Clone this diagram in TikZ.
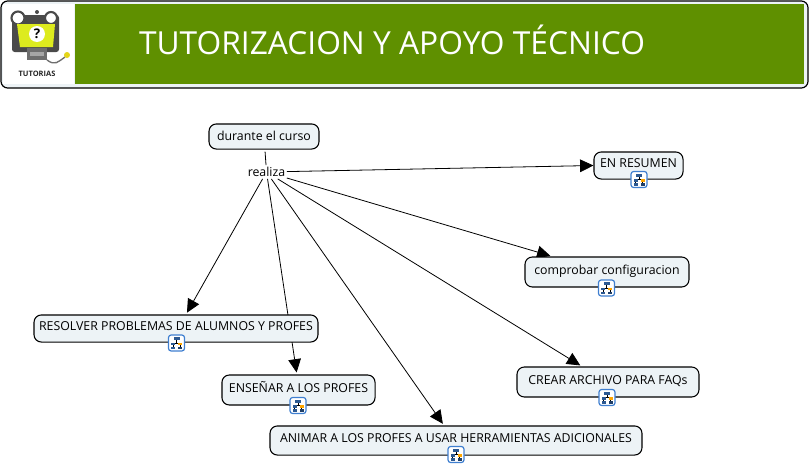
\documentclass[tikz,border=0pt]{standalone}
\usepackage{fontspec}
\setmainfont{Open Sans}
\usetikzlibrary{arrows.meta,positioning}
\pgfdeclarelayer{bg}
\pgfsetlayers{bg,main}
\definecolor{boxfill}{HTML}{EDF3F6}
\definecolor{banner}{HTML}{5F9000}
\definecolor{iconblue}{HTML}{3F7FD0}
\definecolor{scr}{HTML}{DDEB1E}
\definecolor{frm}{HTML}{4A4A4A}
\tikzset{
  cbox/.style={draw=black,fill=boxfill,rounded corners=5.5pt,line width=.8pt,inner sep=0pt,font=\fontsize{9.25}{11}\selectfont,text height=7pt,text depth=1pt,align=center},
  iconbox/.style={cbox,text height=7pt,text depth=4pt},
  linking/.style={inner sep=1pt,font=\fontsize{9.25}{11}\selectfont,text height=7pt,text depth=1pt},
  conn/.style={line width=.6pt,draw=black},
  arr/.style={conn,shorten >=1.5pt,-{Triangle[length=10pt,width=9.5pt]}},
  pics/treeicon/.style={code={
    \draw[draw=iconblue,fill=white,rounded corners=2pt,line width=.9pt] (-8,-8) rectangle (8,8);
    \draw[line width=.4pt,black] (0,-4) -- (0,0) (-3.5,0) -- (3.5,0) (-3.5,0) -- (-3.5,4) (3.5,0) -- (3.5,4);
    \fill[iconblue!70!black] (-3,-6) rectangle (3,-3);
    \fill[iconblue!70!black] (-5.5,-0.5) rectangle (-1.5,2);
    \fill[orange!70!yellow] (1.5,-0.5) rectangle (5.5,2);
    \fill[iconblue!70!black] (-5.5,3.5) rectangle (-1.5,6);
    \fill[iconblue!50!black] (1.5,3.5) rectangle (5.5,6);
  }}
}
\begin{document}
\begin{tikzpicture}[x=.75pt,y=-.75pt]
\useasboundingbox (0,0) rectangle (811,468);
% banner
\draw[black,fill=boxfill,rounded corners=5pt,line width=.9pt] (1,1) rectangle (808,88);
\fill[white] (3,4) rectangle (74,84);
\fill[banner] (75,4) rectangle (804,84);
\node[text=white,anchor=center,font=\fontsize{23.8}{26}\selectfont,inner sep=0pt] (title) at (392,39.5) {TUTORIZACION Y APOYO TÉCNICO};
% logo
\fill[frm,rounded corners=2pt] (12,15) rectangle (59,52);
\fill[frm!80] (27,48) rectangle (47,60);
\fill[black!35] (30,52) rectangle (44,56);
\draw[frm,line width=1.6pt,fill=white] (18,18) circle (6.5);
\draw[frm,line width=1.6pt,fill=white] (51,18) circle (6);
\fill[frm] (37,12) circle (2);
\fill[scr] (17,24) -- (55,24) -- (53,47) -- (20,47) -- cycle;
\fill[white] (37,34) circle (8);
\node[font=\bfseries\fontsize{10}{11}\selectfont,inner sep=0pt,text=black] (qmark) at (37,34) {?};
\draw[frm!80,line width=1pt] (47,60) .. controls (55,66) and (58,62) .. (65,57);
\fill[scr!80!orange] (67,55) circle (3);
\node[font=\bfseries\fontsize{5.6}{6}\selectfont,inner sep=0pt,text=black!85] (logotext) at (37,73.5) {TUTORIAS};
% nodes
\node[cbox,minimum width=82.5pt,minimum height=18.8pt] (dur) at (264,136.5) {durante el curso};
\node[linking] (rea) at (266.5,172) {realiza};
\node[iconbox,minimum width=66.8pt,minimum height=20.3pt] (res) at (638.5,165.5) {EN RESUMEN};
\node[iconbox,minimum width=123pt,minimum height=22.5pt] (com) at (607,272) {comprobar configuracion};
\node[iconbox,minimum width=213pt,minimum height=20.3pt] (pro) at (176,328.5) {RESOLVER PROBLEMAS DE ALUMNOS Y PROFES};
\node[iconbox,minimum width=114.8pt,minimum height=22.5pt] (ens) at (298.5,390) {ENSEÑAR A LOS PROFES};
\node[iconbox,minimum width=136.5pt,minimum height=22.5pt] (fqs) at (608,382) {CREAR ARCHIVO PARA FAQs};
\node[iconbox,minimum width=279pt,minimum height=21.8pt] (ani) at (456,440.5) {ANIMAR A LOS PROFES A USAR HERRAMIENTAS ADICIONALES};
% icons
\pic at (639,179.5) {treeicon};
\pic at (606.5,288) {treeicon};
\pic at (176.5,343) {treeicon};
\pic at (298,405.5) {treeicon};
\pic at (607,397.5) {treeicon};
\pic at (456,454.5) {treeicon};
% connectors
\begin{pgfonlayer}{bg}
\draw[conn,shorten <=1.5pt] (dur) -- (rea);
\draw[arr,shorten >=0pt] (rea) -- (res.west);
\draw[arr] (rea) -- ([xshift=-41pt]com.north);
\draw[arr] (rea) -- ([xshift=7.5pt]pro.north);
\draw[arr] (rea) -- ([xshift=-1.2pt]ens.north);
\draw[arr] (rea) -- ([xshift=-19.5pt]fqs.north);
\draw[arr] (rea) -- ([xshift=-9pt]ani.north);
\end{pgfonlayer}
\end{tikzpicture}
\end{document}
